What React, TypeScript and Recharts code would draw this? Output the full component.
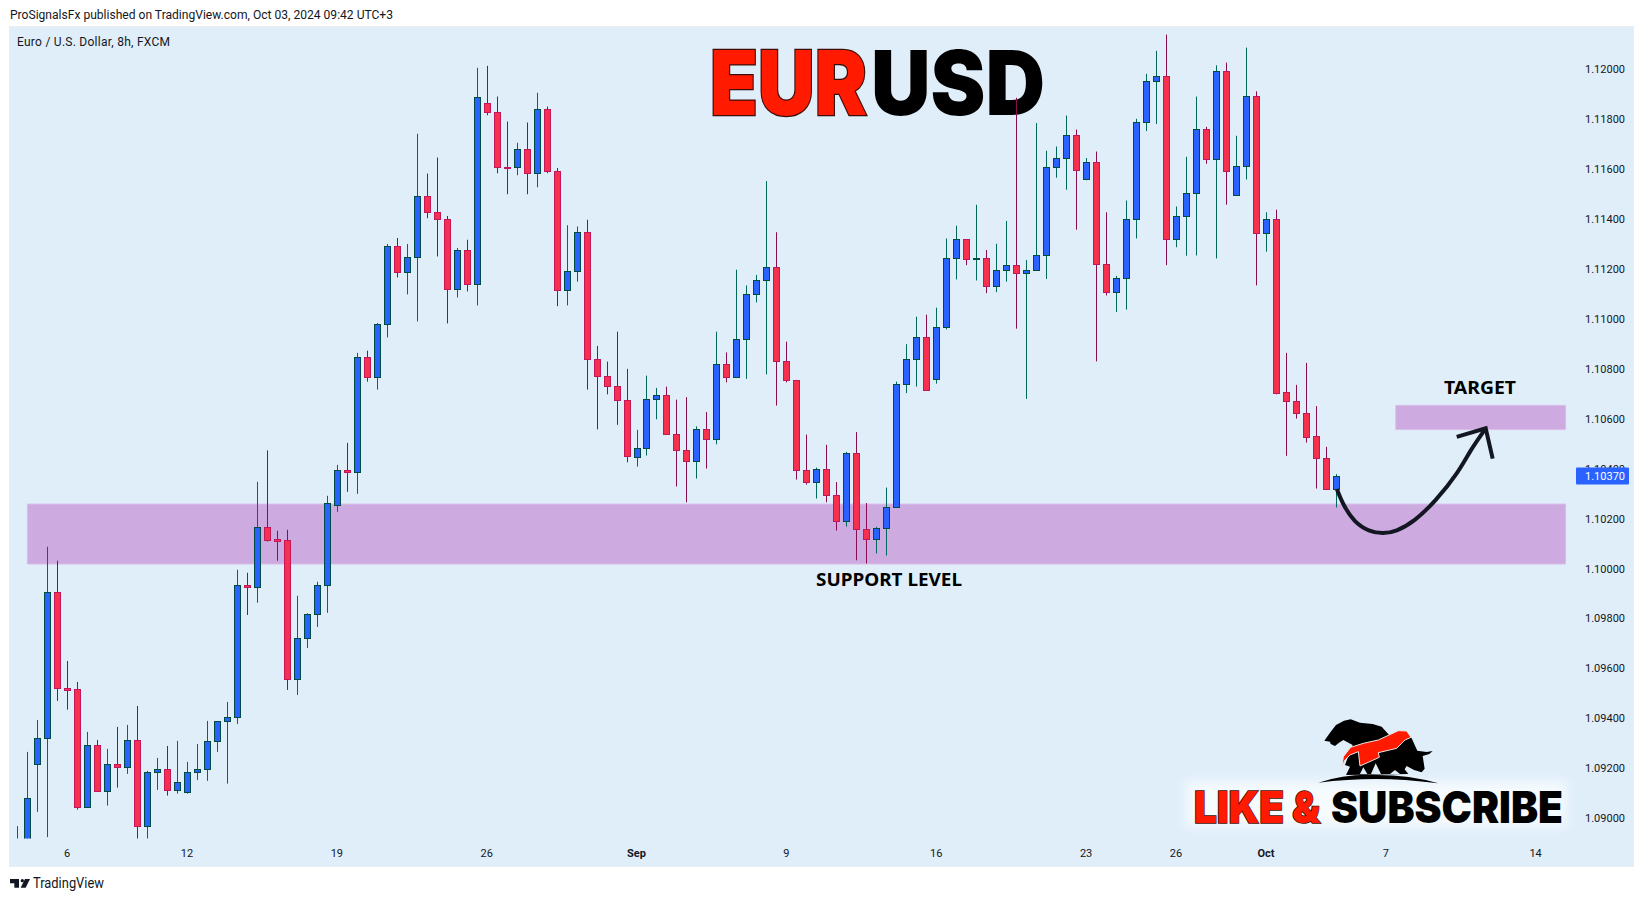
import {
  Bar,
  ComposedChart,
  Line,
  ReferenceArea,
  XAxis,
  YAxis,
} from "recharts";

// 8h candles. The first, second, 13th and 14th run below the pane.
const opens = [
  1.0885, 1.0885, 1.09219, 1.09321, 1.09905, 1.09521, 1.09517, 1.09047, 1.09293, 1.09111,
  1.09217, 1.09207, 1.09313, 1.08971, 1.09185, 1.09197, 1.09115, 1.09107, 1.09185, 1.09197,
  1.09309, 1.09389, 1.09405, 1.09933, 1.09925, 1.10166, 1.10118, 1.10114, 1.09559, 1.09721,
  1.09817, 1.09933, 1.10254, 1.10394, 1.10386, 1.10847, 1.10765, 1.10979, 1.11291, 1.11185,
  1.11247, 1.11491, 1.11427, 1.11399, 1.11117, 1.11275, 1.11137, 1.11864, 1.11828, 1.11609,
  1.11606, 1.11678, 1.11583, 1.1184, 1.11591, 1.11113, 1.11191, 1.11346, 1.10838, 1.1077,
  1.10732, 1.10675, 1.10446, 1.10483, 1.10678, 1.10694, 1.10539, 1.10474, 1.10429, 1.10558,
  1.1052, 1.10818, 1.10765, 1.10918, 1.11099, 1.11154, 1.11207, 1.10831, 1.10755, 1.10394,
  1.10346, 1.10398, 1.10294, 1.1019, 1.10461, 1.10158, 1.10117, 1.10162, 1.10245, 1.10737,
  1.10838, 1.10926, 1.10758, 1.10967, 1.11242, 1.11319, 1.11238, 1.11242, 1.1113, 1.11193,
  1.11214, 1.11182, 1.11193, 1.11255, 1.11607, 1.11643, 1.11735, 1.11559, 1.11627, 1.11218,
  1.11106, 1.11161, 1.11398, 1.11787, 1.11952, 1.11972, 1.11319, 1.11411, 1.11503, 1.11759,
  1.11638, 1.11991, 1.11494, 1.11612, 1.11892, 1.11342, 1.114, 1.10705, 1.1067, 1.10621,
  1.1053, 1.10441, 1.1032,
];
const highs = [
  1.08969, 1.09266, 1.09394, 1.10087, 1.10031, 1.0963, 1.09546, 1.09346, 1.09314, 1.09278,
  1.09366, 1.09374, 1.0945, 1.0919, 1.09242, 1.0929, 1.0931, 1.09226, 1.09298, 1.0939,
  1.09389, 1.09466, 1.09995, 1.09983, 1.10347, 1.10473, 1.10151, 1.10155, 1.09891, 1.09821,
  1.09947, 1.10291, 1.10415, 1.10503, 1.10863, 1.10872, 1.10983, 1.11299, 1.11323, 1.11299,
  1.1174, 1.11581, 1.11645, 1.11411, 1.11283, 1.11316, 1.12004, 1.12012, 1.11889, 1.11789,
  1.11704, 1.11785, 1.11904, 1.11849, 1.11603, 1.11374, 1.11369, 1.11396, 1.10891, 1.10828,
  1.10948, 1.10799, 1.10555, 1.10772, 1.10723, 1.10728, 1.10676, 1.10686, 1.10569, 1.10626,
  1.10948, 1.10865, 1.11196, 1.11133, 1.11175, 1.11551, 1.11346, 1.10908, 1.10755, 1.10536,
  1.10404, 1.10495, 1.10346, 1.10467, 1.10546, 1.10262, 1.10167, 1.10324, 1.10748, 1.10898,
  1.11008, 1.11016, 1.11044, 1.11321, 1.11372, 1.11319, 1.11456, 1.11275, 1.113, 1.11391,
  1.11884, 1.11235, 1.11783, 1.11672, 1.11689, 1.11813, 1.11757, 1.11643, 1.11669, 1.11426,
  1.11171, 1.11473, 1.118, 1.1198, 1.12072, 1.12137, 1.11449, 1.11648, 1.11889, 1.11768,
  1.12014, 1.12025, 1.11732, 1.12085, 1.1191, 1.11426, 1.11436, 1.10863, 1.10735, 1.10823,
  1.1065, 1.10487, 1.10378,
];
const lows = [
  1.088, 1.088, 1.09026, 1.08925, 1.0947, 1.09435, 1.09035, 1.09047, 1.09111, 1.09051,
  1.09123, 1.09178, 1.0885, 1.0885, 1.09114, 1.09091, 1.09099, 1.09099, 1.09154, 1.0915,
  1.09266, 1.09139, 1.09378, 1.09814, 1.09863, 1.10108, 1.10031, 1.09514, 1.09494, 1.09682,
  1.09766, 1.09823, 1.10227, 1.10307, 1.10299, 1.10748, 1.10716, 1.10925, 1.11165, 1.11097,
  1.10989, 1.11402, 1.11249, 1.10981, 1.11085, 1.11109, 1.11053, 1.11814, 1.11582, 1.11498,
  1.11574, 1.11498, 1.11526, 1.11582, 1.1105, 1.11053, 1.11148, 1.10716, 1.10557, 1.10697,
  1.10575, 1.10425, 1.10408, 1.10452, 1.10597, 1.10537, 1.10328, 1.10265, 1.1036, 1.104,
  1.10497, 1.10745, 1.10765, 1.10759, 1.11065, 1.10777, 1.10652, 1.10745, 1.10356, 1.10336,
  1.1028, 1.10265, 1.10152, 1.10168, 1.10033, 1.1002, 1.1006, 1.10052, 1.10245, 1.10702,
  1.10728, 1.10713, 1.1074, 1.10957, 1.11157, 1.11214, 1.11153, 1.11102, 1.11106, 1.11148,
  1.1096, 1.10679, 1.11193, 1.11159, 1.11564, 1.11516, 1.11356, 1.11554, 1.10829, 1.11093,
  1.11027, 1.11036, 1.11321, 1.11751, 1.11779, 1.11214, 1.11286, 1.11252, 1.11253, 1.1162,
  1.11241, 1.11456, 1.11494, 1.11557, 1.11133, 1.11268, 1.10697, 1.10451, 1.106, 1.10504,
  1.1032, 1.10315, 1.10244,
];
const closes = [
  1.0888, 1.09083, 1.09321, 1.09905, 1.09521, 1.09515, 1.09047, 1.09293, 1.09111, 1.09217,
  1.09207, 1.09313, 1.08971, 1.09185, 1.09197, 1.09115, 1.09144, 1.09185, 1.09197, 1.09309,
  1.09389, 1.09405, 1.09933, 1.09925, 1.10166, 1.10116, 1.10112, 1.09559, 1.09721, 1.09817,
  1.09933, 1.10262, 1.10394, 1.10386, 1.10847, 1.10765, 1.10979, 1.11291, 1.11185, 1.11247,
  1.11491, 1.11426, 1.11399, 1.11117, 1.11275, 1.11137, 1.11886, 1.11826, 1.11606, 1.11606,
  1.11678, 1.11583, 1.1184, 1.1159, 1.11113, 1.11191, 1.11346, 1.10838, 1.10769, 1.10732,
  1.10674, 1.10449, 1.10483, 1.10678, 1.10694, 1.10537, 1.10474, 1.10429, 1.10558, 1.1052,
  1.10818, 1.10765, 1.10918, 1.11099, 1.11155, 1.11207, 1.10831, 1.10755, 1.10394, 1.10346,
  1.10398, 1.10293, 1.1019, 1.10461, 1.10158, 1.10117, 1.10162, 1.10245, 1.10737, 1.10838,
  1.10926, 1.10713, 1.10967, 1.11242, 1.11319, 1.11238, 1.11242, 1.1113, 1.11195, 1.11214,
  1.11182, 1.11195, 1.11255, 1.11607, 1.11643, 1.11735, 1.11594, 1.11627, 1.11217, 1.11106,
  1.11162, 1.114, 1.11787, 1.11952, 1.11972, 1.11319, 1.11411, 1.11503, 1.11759, 1.11638,
  1.11991, 1.11591, 1.11612, 1.11892, 1.11342, 1.114, 1.10704, 1.10669, 1.10621, 1.10528,
  1.10441, 1.1032, 1.1037,
];

const priceTicks = [
  1.09, 1.092, 1.094, 1.096, 1.098, 1.1, 1.102, 1.104, 1.106, 1.108, 1.11, 1.112, 1.114, 1.116,
  1.118, 1.12,
];
const lastPrice = 1.1037;
const dateTickIdx = [5, 17, 32, 47, 62, 77, 92, 107, 116, 125, 137, 152];
const dateTickLabels = ["6", "12", "19", "26", "Sep", "9", "16", "23", "26", "Oct", "7", "14"];

// hand drawn arrow on the chart, x in bar numbers
const arrowIdx = [132.1, 132.8, 133.9, 135.3, 136.7, 138.1, 139.9, 142, 144.1, 145.5, 147];
const arrowPrice = [
  1.10318, 1.10254, 1.10191, 1.10153, 1.10142, 1.10153, 1.10195, 1.10275, 1.10381, 1.10472,
  1.10561,
];
const arrowHeadIdx = [144.1, 147, 147.7];
const arrowHeadPrice = [1.10527, 1.10561, 1.1044];

const candles = opens.map((open, idx) => ({
  idx,
  open,
  high: highs[idx],
  low: lows[idx],
  close: closes[idx],
  range: [lows[idx], highs[idx]],
}));
const arrowData = arrowIdx.map((idx, i) => ({ idx, price: arrowPrice[i] }));
const arrowHeadData = arrowHeadIdx.map((idx, i) => ({ idx, price: arrowHeadPrice[i] }));

const FONT = "Roboto, 'Liberation Sans', sans-serif";
const BG = "#e0eefa";
const BAND = "#cdaadf";
const BAND_EDGE = "#d9bdea";

function Candle(props: any) {
  const { x, y, width, height, payload } = props;
  const { open, close, high, low } = payload;
  const perPrice = height / (high - low);
  const toY = (v: number) => y + (high - v) * perPrice;
  const up = close >= open;
  const mid = Math.round(x + width / 2) + 0.5;
  const top = Math.round(toY(Math.max(open, close))) + 0.5;
  const bottom = Math.round(toY(Math.min(open, close))) + 0.5;
  const wick = up ? "#00695c" : "#880e4f";
  return (
    <g>
      <line x1={mid} x2={mid} y1={y} y2={y + height} stroke={wick} strokeWidth={1} />
      <rect
        x={mid - 3}
        y={top}
        width={6}
        height={Math.max(bottom - top, 1)}
        fill={up ? "#2962ff" : "#f7304f"}
        stroke={up ? "#004d40" : "#c2185b"}
        strokeWidth={1}
      />
    </g>
  );
}

function DateTick({ x, y, payload }: any) {
  const label = dateTickLabels[dateTickIdx.indexOf(payload.value)];
  const isMonth = label === "Sep" || label === "Oct";
  return (
    <text
      x={x}
      y={y + 10}
      textAnchor="middle"
      fontFamily={FONT}
      fontSize={11}
      fontWeight={isMonth ? 700 : 400}
      fill="#131722"
    >
      {label}
    </text>
  );
}

function PriceTick({ x, y, payload }: any) {
  const isLast = payload.value === lastPrice;
  return (
    <g>
      {isLast && <rect x={x + 10} y={y - 8.5} width={53} height={17} fill="#2962ff" rx={1} />}
      <text
        x={x + 19}
        y={y + 4}
        fontFamily={FONT}
        fontSize={11}
        fill={isLast ? "#ffffff" : "#131722"}
      >
        {payload.value.toFixed(5)}
      </text>
    </g>
  );
}

function Backdrop() {
  return (
    <svg width={1643} height={901} style={{ position: "absolute", left: 0, top: 0 }}>
      <defs>
        <filter id="glow" x="-10%" y="-40%" width="120%" height="180%">
          <feGaussianBlur stdDeviation="6" />
        </filter>
      </defs>
      <rect x={9.5} y={26.5} width={1624} height={840} fill={BG} stroke="#e9eef3" />
      <text
        x={10}
        y={19}
        textLength={383}
        lengthAdjust="spacingAndGlyphs"
        fontFamily={FONT}
        fontSize={12}
        fill="#131722"
      >
        ProSignalsFx published on TradingView.com, Oct 03, 2024 09:42 UTC+3
      </text>
      <text
        x={17}
        y={46}
        textLength={153}
        lengthAdjust="spacing"
        fontFamily={FONT}
        fontSize={12}
        fill="#131722"
      >
        Euro / U.S. Dollar, 8h, FXCM
      </text>

      <g fontFamily="Inter, Roboto, sans-serif" fontWeight={900} fontSize={89}>
        <text
          x={710}
          y={115}
          textLength={157}
          lengthAdjust="spacingAndGlyphs"
          fill="#ff1a00"
          stroke="#3a0d08"
          strokeWidth={2.5}
          paintOrder="stroke"
        >
          EUR
        </text>
        <text x={871} y={115} textLength={174} lengthAdjust="spacingAndGlyphs" fill="#000000">
          USD
        </text>
      </g>

      <text
        x={816}
        y={586}
        textLength={146}
        lengthAdjust="spacingAndGlyphs"
        fontFamily="'Noto Sans', sans-serif"
        fontWeight={700}
        fontSize={18}
        fill="#000000"
      >
        SUPPORT LEVEL
      </text>
      <text
        x={1444}
        y={394}
        textLength={72}
        lengthAdjust="spacingAndGlyphs"
        fontFamily="'Noto Sans', sans-serif"
        fontWeight={700}
        fontSize={18}
        fill="#000000"
      >
        TARGET
      </text>

      <rect x={1186} y={782} width={380} height={44} fill="#f6fbfe" filter="url(#glow)" />
      <g transform="translate(1310 710) scale(0.3333)">
        <path
          d="M43,92 L60,68 L78,45 L102,32 L122,28 L150,38 L188,42 L215,50 L240,78 L285,62 L305,85 L322,122 L350,126 L368,123 L358,132 L338,138 L344,176 L335,187 L312,180 L290,168 L284,178 L295,192 L108,195 L120,170 L105,165 L120,125 L128,105 L100,90 L85,100 L75,108 L62,102 L60,95 Z"
          fill="#000000"
        />
        <path d="M150,192 L160,172 L172,192 Z M183,192 L197,160 L213,192 Z M240,192 L255,180 L270,192 Z" fill={BG} />
        <path
          d="M96,170 L100,140 L122,112 L160,100 L205,90 L265,62 L290,63 L303,82 L285,90 L260,115 L205,128 L208,142 L150,168 L145,125 L120,135 L105,150 Z"
          fill="#ff1a00"
          stroke="#e8e8e8"
          strokeWidth={3}
        />
        <path d="M25,218 Q110,190 200,195 Q300,195 385,220 Q280,207 200,207 Q110,207 25,218 Z" fill="#000000" />
      </g>
      <g fontFamily="Inter, Roboto, sans-serif" fontWeight={900} fontSize={43.5}>
        <text
          x={1194}
          y={823}
          textLength={126}
          lengthAdjust="spacingAndGlyphs"
          fill="#ff1a00"
          stroke="#3a0d08"
          strokeWidth={1.6}
          paintOrder="stroke"
        >
          LIKE &amp;
        </text>
        <text x={1331} y={823} textLength={232} lengthAdjust="spacingAndGlyphs" fill="#000000">
          SUBSCRIBE
        </text>
      </g>

      <g transform="translate(5 865) scale(0.3333)" fill="#131722">
        <path d="M15,42 L42,42 L42,68 L28,68 L28,55 L15,55 Z" />
        <circle cx={52} cy={47} r={5} />
        <path d="M47,68 L60,42 L75,42 L62,68 Z" />
      </g>
      <text x={33} y={888} textLength={71} lengthAdjust="spacingAndGlyphs" fontFamily={FONT} fontSize={14} fill="#131722">
        TradingView
      </text>
    </svg>
  );
}

export default function App() {
  return (
    <div style={{ position: "absolute", left: 0, top: 0, width: 1643, height: 901, background: "#fff" }}>
      <Backdrop />
      <div style={{ position: "absolute", left: 0, top: 0 }}>
        <ComposedChart
          width={1643}
          height={901}
          data={candles}
          margin={{ top: 27.6, right: 10, bottom: 34.4, left: 10 }}
        >
          <XAxis
            dataKey="idx"
            type="number"
            scale="linear"
            domain={[-0.72, 155.04]}
            ticks={dateTickIdx}
            interval={0}
            height={28}
            axisLine={false}
            tickLine={false}
            tick={<DateTick />}
            allowDataOverflow
          />
          <YAxis
            orientation="right"
            type="number"
            domain={[1.08919, 1.12165]}
            ticks={[...priceTicks, lastPrice]}
            interval={0}
            width={67}
            axisLine={false}
            tickLine={false}
            tickSize={0}
            tickMargin={0}
            tick={<PriceTick />}
            allowDataOverflow
          />
          <ReferenceArea
            x1={1.02}
            x2={155}
            y1={1.10018}
            y2={1.10258}
            fill={BAND}
            fillOpacity={1}
            stroke={BAND_EDGE}
          />
          <ReferenceArea
            x1={138}
            x2={155}
            y1={1.10556}
            y2={1.10653}
            fill={BAND}
            fillOpacity={1}
            stroke={BAND_EDGE}
          />
          <Bar dataKey="range" barSize={7} shape={<Candle />} isAnimationActive={false} />
          <Line
            data={arrowData}
            dataKey="price"
            type="natural"
            stroke="#131722"
            strokeWidth={4}
            dot={false}
            legendType="none"
            isAnimationActive={false}
          />
          <Line
            data={arrowHeadData}
            dataKey="price"
            type="linear"
            stroke="#131722"
            strokeWidth={4}
            dot={false}
            legendType="none"
            isAnimationActive={false}
          />
        </ComposedChart>
      </div>
    </div>
  );
}
